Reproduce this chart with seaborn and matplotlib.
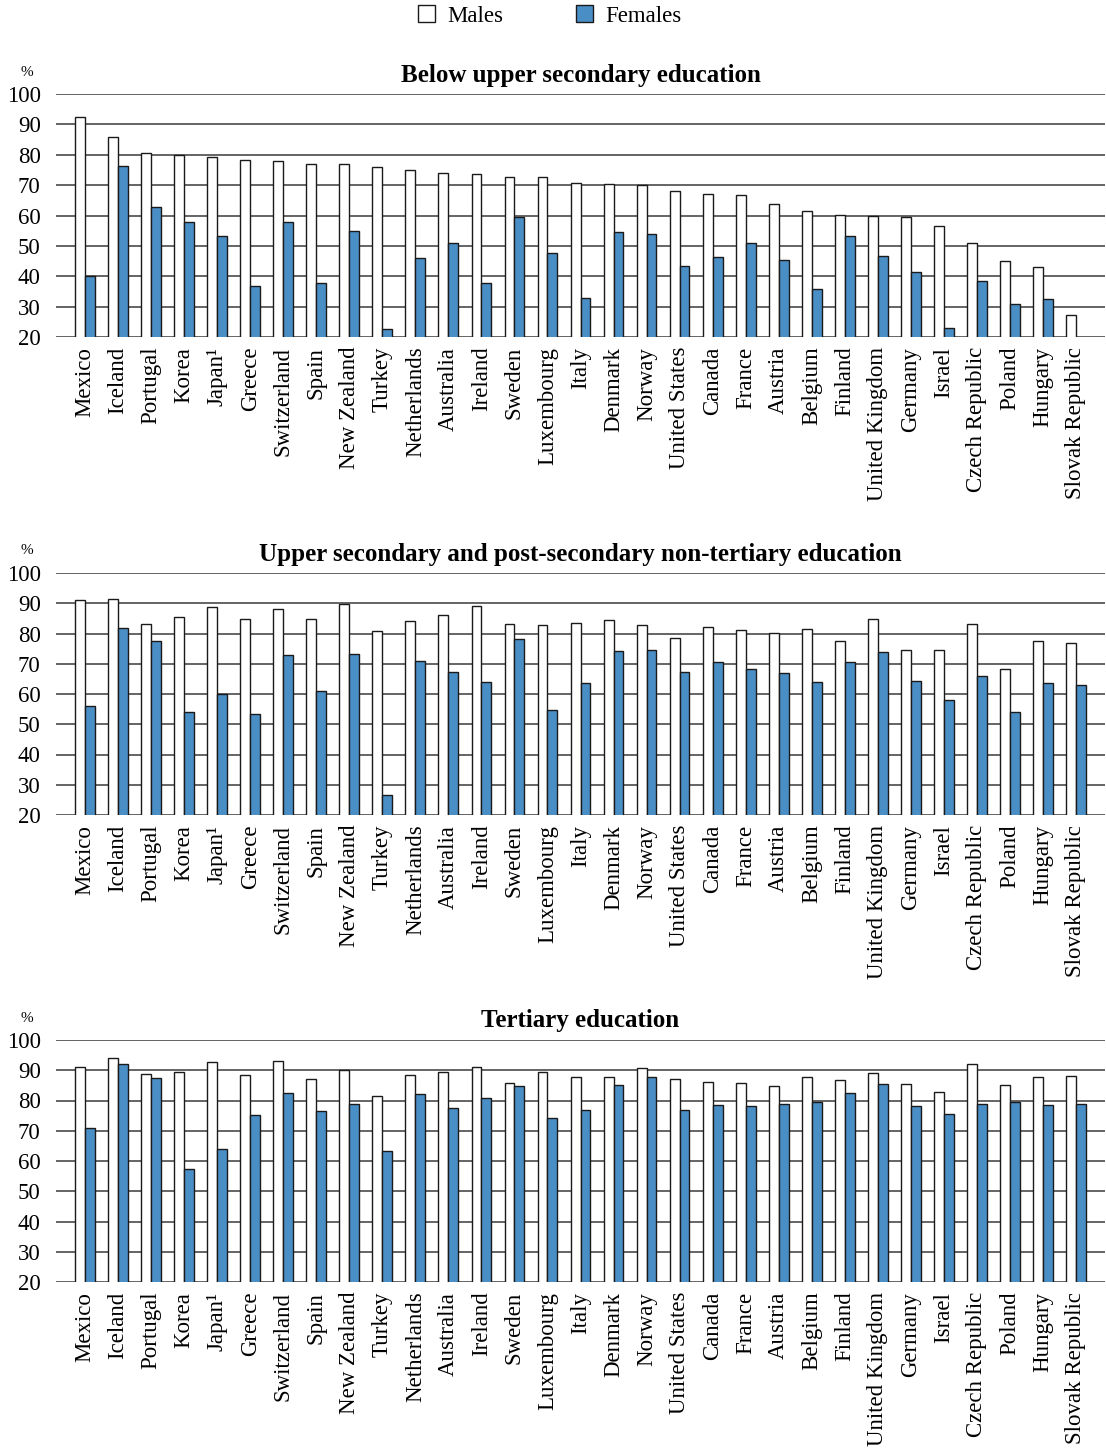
import numpy as np
import pandas as pd
import matplotlib
matplotlib.use("Agg")
import matplotlib.pyplot as plt
from matplotlib.patches import Patch
import seaborn as sns

countries = ["Mexico", "Iceland", "Portugal", "Korea", "Japan¹", "Greece", "Switzerland",
             "Spain", "New Zealand", "Turkey", "Netherlands", "Australia", "Ireland", "Sweden",
             "Luxembourg", "Italy", "Denmark", "Norway", "United States", "Canada", "France",
             "Austria", "Belgium", "Finland", "United Kingdom", "Germany", "Israel",
             "Czech Republic", "Poland", "Hungary", "Slovak Republic"]

# Employment rates (%) by level of educational attainment
below_males = [92.4, 86.0, 80.7, 79.8, 79.3, 78.2, 78.1, 77.1, 76.9, 75.9, 75.1, 74.0, 73.6, 72.6,
               72.6, 70.8, 70.5, 70.0, 68.1, 67.1, 66.6, 63.9, 61.6, 60.3, 60.0, 59.5, 56.6,
               51.1, 45.1, 43.2, 27.3]
below_females = [40.2, 76.3, 62.7, 58.0, 53.4, 36.9, 57.7, 37.8, 54.9, 22.6, 46.0, 51.0, 37.7, 59.5,
                 47.7, 32.7, 54.7, 54.0, 43.4, 46.3, 51.0, 45.3, 35.8, 53.1, 46.8, 41.5, 23.0,
                 38.5, 31.0, 32.5, np.nan]

upper_males = [91.2, 91.4, 83.0, 85.6, 88.9, 84.8, 88.2, 84.7, 89.9, 80.7, 84.2, 86.2, 89.0, 83.0,
               82.8, 83.4, 84.4, 82.7, 78.5, 82.0, 81.2, 80.3, 81.6, 77.4, 84.8, 74.5, 74.5,
               83.3, 68.3, 77.5, 77.0]
upper_females = [55.9, 81.9, 77.5, 54.0, 59.9, 53.3, 72.9, 60.9, 73.2, 26.7, 70.8, 67.2, 64.1, 78.2,
                 54.8, 63.6, 74.2, 74.5, 67.3, 70.5, 68.2, 66.9, 63.9, 70.5, 73.8, 64.3, 58.0,
                 65.8, 53.9, 63.6, 63.0]

tertiary_males = [91.1, 94.2, 88.8, 89.4, 92.6, 88.5, 93.2, 87.1, 90.1, 81.5, 88.3, 89.3, 91.1, 85.8,
                  89.3, 87.8, 87.8, 90.7, 87.1, 86.2, 85.8, 84.7, 87.8, 86.8, 89.1, 85.5, 82.8,
                  92.0, 85.2, 87.8, 88.1]
tertiary_females = [71.0, 92.1, 87.5, 57.5, 64.1, 75.3, 82.5, 76.4, 79.0, 63.3, 82.0, 77.6, 80.9, 84.9,
                    74.3, 77.0, 85.1, 87.8, 76.9, 78.6, 78.2, 79.0, 79.6, 82.5, 85.5, 78.3, 75.6,
                    78.8, 79.6, 78.6, 79.0]

panel_titles = ["Below upper secondary education",
                "Upper secondary and post-secondary non-tertiary education",
                "Tertiary education"]
series = [(below_males, below_females),
          (upper_males, upper_females),
          (tertiary_males, tertiary_females)]
y_ticks = [20, 30, 40, 50, 60, 70, 80, 90, 100]

female_blue = "#4a8ec6"
palette = {"Males": "white", "Females": female_blue}

sns.set_style("white")
plt.rcParams["font.family"] = ["Liberation Serif", "DejaVu Serif"]
plt.rcParams["text.color"] = "black"
plt.rcParams["xtick.color"] = "black"
plt.rcParams["ytick.color"] = "black"
plt.rcParams["axes.labelcolor"] = "black"

fig = plt.figure(figsize=(11.06, 14.56), dpi=100)
H = 1456.0
W = 1106.0
panel_px = [(94, 337), (573, 815), (1040, 1282)]
left_px, right_px = 56, 1105

for (top, bottom), title, (m, f) in zip(panel_px, panel_titles, series):
    ax = fig.add_axes([left_px / W, 1 - bottom / H, (right_px - left_px) / W, (bottom - top) / H])
    df = pd.DataFrame({
        "country": countries * 2,
        "sex": ["Males"] * len(countries) + ["Females"] * len(countries),
        "value": list(m) + list(f),
    })
    sns.barplot(data=df, x="country", y="value", hue="sex", hue_order=["Males", "Females"],
                order=countries, palette=palette, edgecolor="#1a1a1a", linewidth=1.0,
                width=0.6, ax=ax, legend=False, errorbar=None, saturation=1)
    ax.set_ylim(20, 100)
    ax.set_xlim(-0.88, len(countries) - 1 + 0.88)
    ax.set_yticks(y_ticks)
    ax.set_yticklabels([str(t) for t in y_ticks], fontsize=16.5)
    ax.yaxis.grid(True, color="#3a3a3a", linewidth=1.1)
    ax.xaxis.grid(False)
    ax.set_axisbelow(True)
    for s in ax.spines.values():
        s.set_visible(False)
    ax.tick_params(axis="both", length=0, labelcolor="black")
    ax.tick_params(axis="y", pad=11)
    ax.tick_params(axis="x", pad=7)
    plt.setp(ax.get_xticklabels(), rotation=90, fontsize=16.5)
    ax.set_xlabel("")
    ax.set_ylabel("")
    ax.set_title(title, fontsize=18, fontweight="bold", pad=9, color="black")
    fig.text(27 / W, 1 - (top - 22) / H, "%", fontsize=11, ha="center", va="center")

handles = [Patch(facecolor="white", edgecolor="#1a1a1a", linewidth=1.0, label="Males"),
           Patch(facecolor=female_blue, edgecolor="#1a1a1a", linewidth=1.0, label="Females")]
fig.legend(handles=handles, loc="center", bbox_to_anchor=(0.497, 1 - 16 / H), ncol=2,
           frameon=False, fontsize=16.5, handlelength=0.75, handleheight=0.75,
           handletextpad=0.5, columnspacing=3.2)

fig.savefig("out.png", dpi=100)
